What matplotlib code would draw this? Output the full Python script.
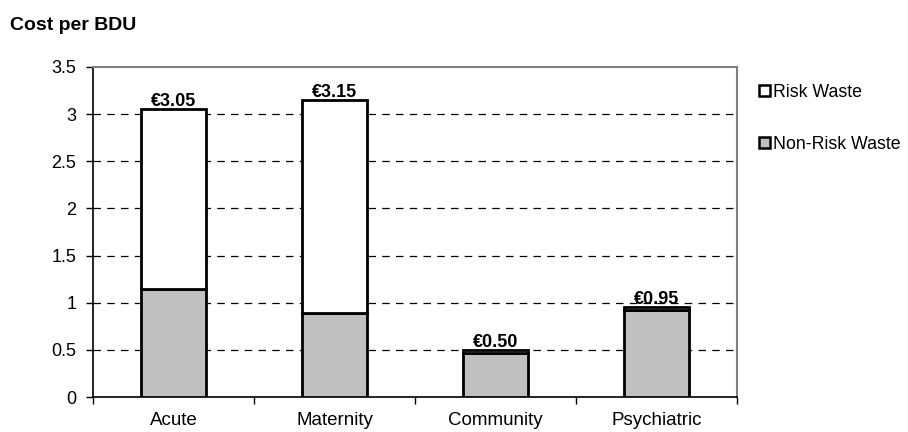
import matplotlib
matplotlib.use("Agg")
import matplotlib.pyplot as plt
import numpy as np
from matplotlib.patches import Patch

plt.rcParams['font.family'] = ['Liberation Sans', 'DejaVu Sans']

categories = ["Acute", "Maternity", "Community", "Psychiatric"]
non_risk = [1.15, 0.89, 0.47, 0.92]
risk = [1.90, 2.26, 0.03, 0.03]
totals = [3.05, 3.15, 0.50, 0.95]
total_labels = ["€3.05", "€3.15", "€0.50", "€0.95"]
yticks = [0, 0.5, 1, 1.5, 2, 2.5, 3, 3.5]
ytick_labels = ["0", "0.5", "1", "1.5", "2", "2.5", "3", "3.5"]

fig = plt.figure(figsize=(9.08, 4.32), dpi=100)
ax = fig.add_axes([0.1024, 0.081, 0.7093, 0.764])

x = np.arange(len(categories))
w = 0.4
ax.bar(x, non_risk, w, color="#c0c0c0", edgecolor="black", linewidth=2, zorder=3,
       label="Non-Risk Waste")
ax.bar(x, risk, w, bottom=non_risk, color="white", edgecolor="black", linewidth=2,
       zorder=3, label="Risk Waste")

for xi, t, lab in zip(x, totals, total_labels):
    ax.text(xi, t + 0.035, lab, ha="center", va="baseline", fontsize=13,
            fontweight="bold", zorder=4)

ax.set_xlim(-0.5, len(categories) - 0.5)
ax.set_ylim(0, 3.5)
ax.set_yticks(yticks)
ax.set_yticklabels(ytick_labels, fontsize=13)
ax.set_xticks(x)
ax.set_xticklabels(categories, fontsize=13.5)
ax.set_xticks(np.arange(-0.5, len(categories)), minor=True)
ax.tick_params(axis="x", which="major", length=0, pad=10.5)
ax.tick_params(axis="x", which="minor", length=5, direction="out", width=1)
ax.tick_params(axis="y", length=5, direction="out", width=1, pad=7)

for yv in yticks[1:-1]:
    ax.axhline(yv, color="black", linestyle=(0, (6, 5)), linewidth=0.9, zorder=1)

ax.spines["left"].set_color("black")
ax.spines["bottom"].set_color("black")
ax.spines["top"].set_color("#808080")
ax.spines["right"].set_color("#808080")
for s in ax.spines.values():
    s.set_linewidth(1.5)
ax.spines["left"].set_linewidth(1.2)
ax.spines["bottom"].set_linewidth(1.2)

handles = [Patch(facecolor="white", edgecolor="black", linewidth=1.8, label="Risk Waste"),
           Patch(facecolor="#c0c0c0", edgecolor="black", linewidth=1.8, label="Non-Risk Waste")]
fig.legend(handles=handles, loc="upper left", bbox_to_anchor=(0.828, 0.822),
           frameon=False, fontsize=12.8, handlelength=0.6, handleheight=0.6,
           handletextpad=0.2, labelspacing=1.95, borderaxespad=0)

fig.text(0.011, 0.942, "Cost per BDU", fontsize=14, fontweight="bold",
         ha="left", va="center")

fig.savefig("out.png", dpi=100)
